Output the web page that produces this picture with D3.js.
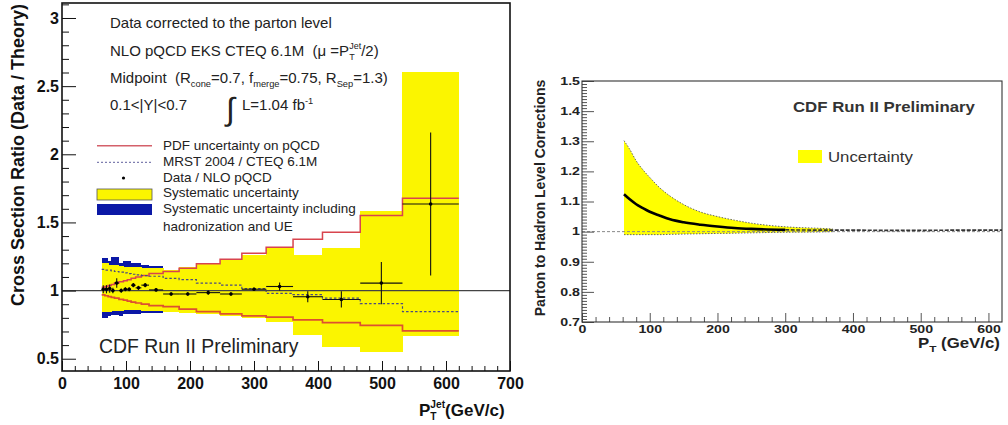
<!DOCTYPE html>
<html><head><meta charset="utf-8">
<script src="https://cdn.jsdelivr.net/npm/d3@7"></script>
<style>
html,body{margin:0;padding:0;background:#fff;}
svg{display:block;font-family:"Liberation Sans",Arial,Helvetica,sans-serif;}
</style></head><body>
<svg id="c" width="1008" height="425"></svg>
<script>
// ---------- Left panel: data / theory ratio ----------
const binEdges = [62,67,72,77,82,89,96,102,108,115,124,136,158,183,210,247,281,319,361,407,466,532,620];
const dataRatio = [1.01,1.01,1.015,1.0,1.055,1.0,1.01,1.01,1.04,1.02,1.04,1.005,0.975,0.975,0.985,0.975,1.01,1.03,0.955,0.935,1.055,1.635];
const dataErr   = [0.03,0.03,0.03,0.02,0.035,0.015,0.015,0.015,0.015,0.015,0.015,0.012,0.012,0.012,0.015,0.012,0.012,0.03,0.04,0.06,0.155,0.525];
const sysUp     = [1.2,1.2,1.19,1.19,1.19,1.18,1.175,1.175,1.17,1.17,1.165,1.165,1.15,1.17,1.2,1.225,1.26,1.31,1.26,1.31,1.585,2.605];
const sysDown   = [0.84,0.84,0.845,0.85,0.85,0.85,0.855,0.855,0.855,0.855,0.85,0.848,0.84,0.835,0.825,0.812,0.8,0.773,0.675,0.585,0.553,0.668];
const hadUp     = [1.24,1.24,1.22,1.245,1.245,1.2,1.22,1.22,1.205,1.205,1.185,1.18];
const hadDown   = [0.8,0.8,0.81,0.82,0.82,0.815,0.83,0.83,0.825,0.825,0.835,0.835];
const pdfUp     = [1.025,1.03,1.038,1.045,1.055,1.065,1.072,1.08,1.09,1.1,1.11,1.125,1.14,1.164,1.196,1.23,1.274,1.318,1.377,1.428,1.55,1.677];
const pdfDown   = [0.968,0.962,0.956,0.95,0.944,0.936,0.93,0.923,0.916,0.909,0.9,0.89,0.883,0.864,0.846,0.829,0.815,0.805,0.785,0.765,0.745,0.705];
const mrstRatio = [1.155,1.15,1.15,1.145,1.14,1.135,1.13,1.125,1.12,1.115,1.11,1.105,1.09,1.08,1.055,1.04,1.015,0.98,0.97,0.944,0.905,0.846];
const leftXTicks = [0,100,200,300,400,500,600,700];
const leftYTicks = [0.5,1,1.5,2,2.5,3];

// ---------- Right panel: parton to hadron corrections ----------
const corrPt      = [62,70,80,90,100,115,130,150,175,200,225,250,300,350,370,400,450,500,550,600,620];
const corrCentral = [1.124,1.108,1.091,1.078,1.066,1.053,1.041,1.031,1.023,1.017,1.012,1.009,1.006,1.005,1.005,1.005,1.004,1.004,1.005,1.005,1.005];
const bandPt      = [62,70,80,90,100,115,130,150,175,200,225,250,300,350,370];
const bandUp      = [1.302,1.275,1.235,1.205,1.18,1.145,1.118,1.09,1.065,1.05,1.038,1.028,1.016,1.011,1.009];
const bandDown    = [0.99,0.99,0.99,0.99,0.99,0.99,0.991,0.992,0.993,0.994,0.995,0.996,0.998,0.999,1.0];
const rightXTicks = [0,100,200,300,400,500,600];
const rightYTicks = [0.7,0.8,0.9,1,1.1,1.2,1.3,1.4,1.5];

const NB = '\u00a0';
const svg = d3.select('#c');
svg.append('rect').attr('width',1008).attr('height',425).attr('fill','#fff');

// rich text: sequential pieces, with optional stacked super/subscript
function rich(g, x, y, size, parts, attrs={}) {
  let cx = x;
  const mk = (t, px, py, fs) => {
    const e = g.append('text').attr('x',px).attr('y',py).attr('font-size',fs).text(t);
    Object.entries(attrs).forEach(([k,v])=>e.attr(k,v));
    return e;
  };
  parts.forEach(p => {
    if (p.stack) {
      const fs = size*0.6;
      const a = mk(p.stack[0], cx, y - size*0.5, fs);
      const b = mk(p.stack[1], cx, y + size*0.26, fs);
      cx += Math.max(a.node().getComputedTextLength(), b.node().getComputedTextLength());
    } else {
      const fs = size*(p.s||1);
      const e = mk(p.t, cx, y + (p.dy||0), fs);
      cx += e.node().getComputedTextLength();
    }
  });
}

// ================= LEFT =================
const xL = d3.scaleLinear().domain([0,700]).range([62,510]);
const yL = d3.scaleLinear().domain([0.41,3.11]).range([371,3]);
const L = svg.append('g');
const binIdx = d3.range(binEdges.length-1);

L.selectAll('rect.had').data(hadUp.map((u,i)=>({i,u,d:hadDown[i]}))).join('rect')
  .attr('x',d=>xL(binEdges[d.i])).attr('width',d=>xL(binEdges[d.i+1])-xL(binEdges[d.i]))
  .attr('y',d=>yL(d.u)).attr('height',d=>yL(d.d)-yL(d.u))
  .attr('fill','#0b18a6').attr('shape-rendering','crispEdges');

L.selectAll('rect.sys').data(binIdx).join('rect')
  .attr('x',i=>xL(binEdges[i])).attr('width',i=>xL(binEdges[i+1])-xL(binEdges[i])+0.5)
  .attr('y',i=>yL(sysUp[i])).attr('height',i=>yL(sysDown[i])-yL(sysUp[i]))
  .attr('fill','#fbf500').attr('shape-rendering','crispEdges');

function stepPts(vals){ const p=[]; vals.forEach((v,i)=>{p.push([binEdges[i],v]);p.push([binEdges[i+1],v]);}); return p; }
const lineL = d3.line().x(d=>xL(d[0])).y(d=>yL(d[1]));

L.append('path').attr('d',lineL(stepPts(pdfUp))).attr('fill','none').attr('stroke','#d8444e').attr('stroke-width',1.5);
L.append('path').attr('d',lineL(stepPts(pdfDown))).attr('fill','none').attr('stroke','#dd5030').attr('stroke-width',1.7);
L.append('path').attr('d',lineL(stepPts(mrstRatio))).attr('fill','none').attr('stroke','#4a4a80').attr('stroke-width',1.2).attr('stroke-dasharray','2.5,2');

// reference line at ratio 1
L.append('line').attr('x1',xL(0)).attr('x2',xL(700)).attr('y1',yL(1)).attr('y2',yL(1)).attr('stroke','#444').attr('stroke-width',1.2);

// data points with error bars
const dg = L.append('g').attr('stroke','#111').attr('stroke-width',1.1);
binIdx.forEach(i => {
  const c = (binEdges[i]+binEdges[i+1])/2;
  dg.append('line').attr('x1',xL(binEdges[i])).attr('x2',xL(binEdges[i+1])).attr('y1',yL(dataRatio[i])).attr('y2',yL(dataRatio[i]));
  dg.append('line').attr('x1',xL(c)).attr('x2',xL(c)).attr('y1',yL(dataRatio[i]+dataErr[i])).attr('y2',yL(dataRatio[i]-dataErr[i]));
});
L.selectAll('circle.pt').data(binIdx).join('circle')
  .attr('cx',i=>xL((binEdges[i]+binEdges[i+1])/2)).attr('cy',i=>yL(dataRatio[i])).attr('r',1.8).attr('fill','#000');

// axes
function styleAxis(g){ g.select('.domain').remove(); g.selectAll('line').attr('stroke','#111'); }
const axXL = L.append('g').attr('transform','translate(0,371)')
  .call(d3.axisBottom(xL).tickValues(leftXTicks).tickSizeInner(-10).tickSizeOuter(0).tickPadding(7).tickFormat(d3.format('d')));
axXL.call(styleAxis);
axXL.selectAll('text').attr('font-size',16).attr('font-weight','bold').attr('fill','#111').attr('font-family','"Liberation Sans",Arial,sans-serif');
L.append('g').attr('transform','translate(0,371)')
  .call(d3.axisBottom(xL).tickValues(d3.range(20,700,20).filter(v=>v%100)).tickSizeInner(-5).tickSizeOuter(0).tickFormat(''))
  .call(styleAxis);
const axYL = L.append('g').attr('transform','translate(62,0)')
  .call(d3.axisLeft(yL).tickValues(leftYTicks).tickSizeInner(-14).tickSizeOuter(0).tickPadding(3).tickFormat(d=>String(d)));
axYL.call(styleAxis);
axYL.selectAll('text').attr('font-size',16).attr('font-weight','bold').attr('fill','#111').attr('font-family','"Liberation Sans",Arial,sans-serif');
L.append('g').attr('transform','translate(62,0)')
  .call(d3.axisLeft(yL).tickValues(d3.range(5,32).map(v=>v/10).filter(v=>Math.abs(v*2-Math.round(v*2))>1e-6)).tickSizeInner(-7).tickSizeOuter(0).tickFormat(''))
  .call(styleAxis);

L.append('rect').attr('x',62).attr('y',3).attr('width',448).attr('height',368).attr('fill','none').attr('stroke','#111').attr('stroke-width',1.6);

// titles
L.append('text').attr('transform','translate(24,155) rotate(-90)').attr('text-anchor','middle')
  .attr('font-size',18).attr('font-weight','bold').attr('fill','#111').text('Cross Section Ratio (Data / Theory)');
rich(L, 419, 416, 17, [{t:'P'},{stack:['Jet','T']},{t:'(GeV/c)'}], {'font-weight':'bold','fill':'#111'});

// annotation lines
const tc = {'fill':'#222'};
rich(L, 110, 28, 15, [{t:'Data corrected to the parton level'}], tc);
rich(L, 110, 56, 15, [{t:'NLO pQCD EKS CTEQ 6.1M'+NB+NB+'(\u03bc'+NB+'=P'},{stack:['Jet','T']},{t:'/2)'}], tc);
rich(L, 110, 83, 15, [{t:'Midpoint'+NB+NB+'(R'},{t:'cone',s:0.62,dy:4},{t:'=0.7, f'},{t:'merge',s:0.62,dy:4},{t:'=0.75, R'},{t:'Sep',s:0.62,dy:4},{t:'=1.3)'}], tc);
rich(L, 110, 110, 15, [{t:'0.1<|Y|<0.7'}], tc);
L.append('text').attr('x',226).attr('y',120).attr('font-size',32).attr('fill','#222').text('\u222b');
rich(L, 242, 110, 15, [{t:'L=1.04 fb'},{t:'-1',s:0.62,dy:-6}], tc);

// legend
const lg = L.append('g');
lg.append('line').attr('x1',97).attr('x2',152).attr('y1',145.7).attr('y2',145.7).attr('stroke','#d4606a').attr('stroke-width',1.4);
lg.append('line').attr('x1',97).attr('x2',152).attr('y1',162.3).attr('y2',162.3).attr('stroke','#7f7fb0').attr('stroke-width',1.2).attr('stroke-dasharray','2,2');
lg.append('circle').attr('cx',123.5).attr('cy',178).attr('r',1.6).attr('fill','#000');
lg.append('rect').attr('x',97).attr('y',189).attr('width',55).attr('height',11).attr('fill','#fbf500').attr('stroke','#555').attr('stroke-width',0.8);
lg.append('rect').attr('x',97).attr('y',204).attr('width',55).attr('height',11).attr('fill','#0b18a6');
const legTxt = [['PDF uncertainty on pQCD',150],['MRST 2004 / CTEQ 6.1M',166],['Data / NLO pQCD',182],['Systematic uncertainty',197],['Systematic uncertainty including',213],['hadronization and UE',231]];
legTxt.forEach(([t,y]) => lg.append('text').attr('x',163).attr('y',y).attr('font-size',13.5).attr('fill','#222').text(t));

L.append('text').attr('x',99).attr('y',353).attr('font-size',19.4).attr('fill','#222').text('CDF Run II Preliminary');

// ================= RIGHT =================
const xR = d3.scaleLinear().domain([0,620]).range([582,1002]);
const yR = d3.scaleLinear().domain([0.7,1.5]).range([322,81]);
const R = svg.append('g');

const bandData = bandPt.map((p,i)=>({p, u:bandUp[i], d:bandDown[i]}));
R.append('path').attr('d', d3.area().x(d=>xR(d.p)).y0(d=>yR(d.d)).y1(d=>yR(d.u)).curve(d3.curveMonotoneX)(bandData))
  .attr('fill','#ffff00');
const edge = (key) => d3.line().x(d=>xR(d.p)).y(d=>yR(d[key])).curve(d3.curveMonotoneX)(bandData);
R.append('path').attr('d',edge('u')).attr('fill','none').attr('stroke','#666').attr('stroke-width',1).attr('stroke-dasharray','1.5,1.5');
R.append('path').attr('d',edge('d')).attr('fill','none').attr('stroke','#666').attr('stroke-width',1).attr('stroke-dasharray','1.5,1.5');

// unity reference
R.append('line').attr('x1',582).attr('x2',1002).attr('y1',yR(1)).attr('y2',yR(1)).attr('stroke','#888').attr('stroke-width',1).attr('stroke-dasharray','3,2');

const corr = corrPt.map((p,i)=>({p, v:corrCentral[i]}));
const cLine = d3.line().x(d=>xR(d.p)).y(d=>yR(d.v)).curve(d3.curveMonotoneX);
R.append('path').attr('d',cLine(corr.filter(d=>d.p<=300))).attr('fill','none').attr('stroke','#000').attr('stroke-width',2.6);
R.append('path').attr('d',cLine(corr.filter(d=>d.p>=300))).attr('fill','none').attr('stroke','#333').attr('stroke-width',1.6).attr('stroke-dasharray','4,1.5');

// axes
const axXR = R.append('g').attr('transform','translate(0,322)')
  .call(d3.axisBottom(xR).tickValues(rightXTicks).tickSizeInner(-9).tickSizeOuter(0).tickPadding(4).tickFormat(d3.format('d')));
axXR.call(styleAxis);
axXR.selectAll('text').attr('font-size',10.5).attr('font-weight','bold').attr('fill','#222').attr('transform','scale(1.35,1)');
R.append('g').attr('transform','translate(0,322)')
  .call(d3.axisBottom(xR).tickValues(d3.range(20,620,20).filter(v=>v%100)).tickSizeInner(-5).tickSizeOuter(0).tickFormat(''))
  .call(styleAxis);
const axYR = R.append('g').attr('transform','translate(582,0)')
  .call(d3.axisLeft(yR).tickValues(rightYTicks).tickSizeInner(-12).tickSizeOuter(0).tickPadding(1.5).tickFormat(d=>String(d)));
axYR.call(styleAxis);
axYR.selectAll('text').attr('font-size',10.5).attr('font-weight','bold').attr('fill','#222').attr('transform','scale(1.35,1)');
R.append('g').attr('transform','translate(582,0)')
  .call(d3.axisLeft(yR).tickValues(d3.range(71,150).map(v=>v/100).filter(v=>Math.abs(v*10-Math.round(v*10))>1e-6)).tickSizeInner(-5).tickSizeOuter(0).tickFormat(''))
  .call(styleAxis);
R.selectAll('line').filter(function(){return this.parentNode.classList.contains('tick');}).attr('stroke','#555');

R.append('rect').attr('x',582).attr('y',81).attr('width',420).attr('height',241).attr('fill','none').attr('stroke','#333').attr('stroke-width',1.1);

R.append('text').attr('transform','translate(545,198) rotate(-90)').attr('text-anchor','middle')
  .attr('font-size',14).attr('font-weight','bold').attr('fill','#222').text('Parton to Hadron Level Corrections');
const xt = R.append('g').attr('transform','translate(918,348) scale(1.2,1)');
rich(xt, 0, 0, 14, [{t:'P'},{t:'T',s:0.7,dy:4},{t:NB+'(GeV/c)'}], {'font-weight':'bold','fill':'#222'});

R.append('text').attr('transform','translate(793,112) scale(1.2,1)').attr('font-size',14).attr('font-weight','bold').attr('fill','#333').text('CDF Run II Preliminary');
R.append('rect').attr('x',798).attr('y',150).attr('width',24).attr('height',13).attr('fill','#ffff00');
R.append('text').attr('transform','translate(828,162) scale(1.2,1)').attr('font-size',14).attr('fill','#333').text('Uncertainty');
</script>
</body></html>
